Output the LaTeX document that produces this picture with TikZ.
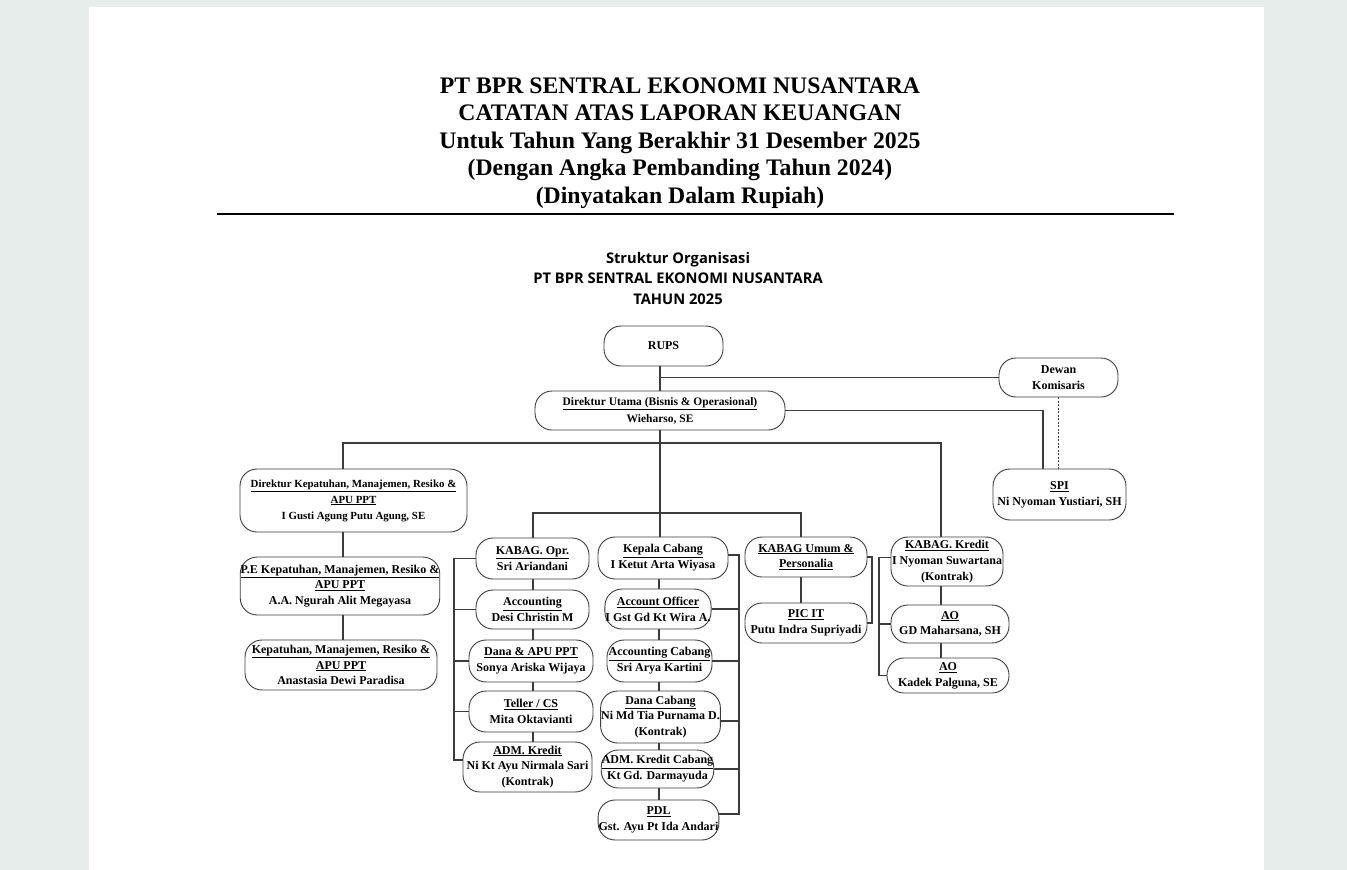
\documentclass[tikz,border=0pt]{standalone}
\usepackage{fontspec}
\setmainfont{Liberation Serif}
\newfontfamily\osans{Open Sans}
\definecolor{bgc}{HTML}{E7EDEB}
\definecolor{ln}{HTML}{3C3C3C}
\tikzset{
  box/.style={draw=ln, line width=0.9pt, rounded corners=17pt, fill=white, align=center, inner sep=0.5pt, font=\bfseries\fontsize{12}{15.8}\selectfont},
  conn/.style={draw=ln, line width=1.1pt},
  ttl/.style={font=\bfseries\fontsize{23.7}{27}\selectfont, anchor=base, inner sep=0pt},
  sub/.style={font=\osans\bfseries\fontsize{14.7}{20}\selectfont, anchor=base, inner sep=0pt},
}
\begin{document}
\begin{tikzpicture}[x=1pt,y=-1pt]
\useasboundingbox (0,0) rectangle (1347,870);
\fill[bgc] (0,0) rectangle (1347,870);
\fill[white] (89,7) rectangle (1264,870);
% titles
\node[ttl] (t1) at (680,93) {PT BPR SENTRAL EKONOMI NUSANTARA};
\node[ttl] (t2) at (680,120.5) {CATATAN ATAS LAPORAN KEUANGAN};
\node[ttl] (t3) at (680,148) {Untuk Tahun Yang Berakhir 31 Desember 2025};
\node[ttl] (t4) at (680,175.5) {(Dengan Angka Pembanding Tahun 2024)};
\node[ttl] (t5) at (680,203) {(Dinyatakan Dalam Rupiah)};
\draw[line width=2pt] (217,214) -- (1174,214);
\node[sub] (s1) at (678,263) {Struktur Organisasi};
\node[sub] (s2) at (678,283) {PT BPR SENTRAL EKONOMI NUSANTARA};
\node[sub] (s3) at (678,304) {TAHUN 2025};
% boxes
\node[box, minimum width=119pt, minimum height=40pt] (rups) at (663.5,346) {RUPS};
\node[box, minimum width=250pt, minimum height=39pt, font=\bfseries\fontsize{11.5}{17}\selectfont] (dirut) at (660,410.5) {\underline{Direktur Utama (Bisnis \& Operasional)}\\Wieharso, SE};
\node[box, minimum width=119pt, minimum height=39pt] (dewan) at (1058.5,377.5) {Dewan\\Komisaris};
\node[box, minimum width=133pt, minimum height=51pt] (spi) at (1059.5,494.5) {\underline{SPI}\\Ni Nyoman Yustiari, SH};
\node[box, minimum width=227pt, minimum height=63pt, font=\bfseries\fontsize{10.9}{16}\selectfont] (dirkep) at (353.5,500.5) {\underline{Direktur Kepatuhan, Manajemen, Resiko \&}\\\underline{APU PPT}\\I Gusti Agung Putu Agung, SE};
\node[box, minimum width=194pt, minimum height=58pt] (pek) at (340,586) {\underline{P.E Kepatuhan, Manajemen, Resiko \&}\\\underline{APU PPT}\\A.A. Ngurah Alit Megayasa};
\node[box, minimum width=192pt, minimum height=50pt] (kep) at (341,665) {\underline{Kepatuhan, Manajemen, Resiko \&}\\\underline{APU PPT}\\Anastasia Dewi Paradisa};
% KABAG Opr column
\node[box, minimum width=113pt, minimum height=41pt] (kopr) at (532.5,558.5) {\underline{KABAG. Opr.}\\Sri Ariandani};
\node[box, minimum width=113pt, minimum height=39pt] (acc) at (532.5,609.5) {\underline{Accounting}\\Desi Christin M};
\node[box, minimum width=124pt, minimum height=42pt] (dana) at (531,661) {\underline{Dana \& APU PPT}\\Sonya Ariska Wijaya};
\node[box, minimum width=124pt, minimum height=41pt] (teller) at (531,711.5) {\underline{Teller / CS}\\Mita Oktavianti};
\node[box, minimum width=129pt, minimum height=50pt] (admk) at (527.5,767) {\underline{ADM. Kredit}\\Ni Kt Ayu Nirmala Sari\\(Kontrak)};
% Kepala Cabang column
\node[box, minimum width=130pt, minimum height=42pt] (kc) at (663,558) {\underline{Kepala Cabang}\\I Ketut Arta Wiyasa};
\node[box, minimum width=102pt, minimum height=40pt] (ao1) at (658,609) {\underline{Account Officer}\\I Gst Gd Kt Wira A.};
\node[box, minimum width=105pt, minimum height=42pt] (accc) at (659.5,661) {\underline{Accounting Cabang}\\Sri Arya Kartini};
\node[box, minimum width=113pt, minimum height=52pt] (danac) at (660.5,717) {\underline{Dana Cabang}\\Ni Md Tia Purnama D.\\(Kontrak)};
\node[box, minimum width=111pt, minimum height=38pt] (admkc) at (657.5,769) {\underline{ADM. Kredit Cabang}\\Kt Gd. Darmayuda};
\node[box, minimum width=113pt, minimum height=40pt] (pdl) at (658.5,820) {\underline{PDL}\\Gst. Ayu Pt Ida Andari};
% KABAG Umum column
\node[box, minimum width=122pt, minimum height=40pt] (kum) at (806,557) {\underline{KABAG Umum \&}\\\underline{Personalia}};
\node[box, minimum width=122pt, minimum height=40pt] (pic) at (806,623) {\underline{PIC IT}\\Putu Indra Supriyadi};
% KABAG Kredit column
\node[box, minimum width=112pt, minimum height=49pt] (kk) at (947,561.5) {\underline{KABAG. Kredit}\\I Nyoman Suwartana\\(Kontrak)};
\node[box, minimum width=118pt, minimum height=38pt] (aoa) at (950,624) {\underline{AO}\\GD Maharsana, SH};
\node[box, minimum width=122pt, minimum height=35pt] (aob) at (948,675.5) {\underline{AO}\\Kadek Palguna, SE};
% helper coordinates
\coordinate (bus) at (660,443);
\coordinate (bus2) at (660,513);
\coordinate (cx0) at (343,0);
\coordinate (cx1) at (533,0);
\coordinate (cx2) at (659,0);
\coordinate (cx3) at (801,0);
\coordinate (cx4) at (941,0);
\coordinate (lb) at (454,0);
\coordinate (rb) at (739,0);
\coordinate (rb2) at (872,0);
\coordinate (lb2) at (879,0);
\coordinate (spix) at (1043,0);
% connectors top
\draw[conn] (dirut.north) -- (dirut.north |- rups.south);
\draw[conn] (dirut.north |- dewan.west) -- (dewan.west);
\draw[conn] (dirut.east) -| (spi.north -| spix);
\draw[ln, line width=0.8pt, dash pattern=on 2pt off 1.5pt] (dewan.south) -- (dewan.south |- spi.north);
\draw[conn] (dirut.south) -- (dirut.south |- kc.north);
\draw[conn] (dirkep.north -| cx0) |- (bus) -| (kk.north -| cx4);
\draw[conn] (kopr.north -| cx1) |- (bus2) -| (kum.north -| cx3);
% left column
\draw[conn] (dirkep.south -| cx0) -- (pek.north -| cx0);
\draw[conn] (pek.south -| cx0) -- (kep.north -| cx0);
% KABAG Opr column
\draw[conn] (kopr.south -| cx1) -- (acc.north -| cx1);
\draw[conn] (acc.south -| cx1) -- (dana.north -| cx1);
\draw[conn] (dana.south -| cx1) -- (teller.north -| cx1);
\draw[conn] (teller.south -| cx1) -- (admk.north -| cx1);
\draw[conn] (kopr.west) -- (kopr.west -| lb) -- ([yshift=7pt]admk.west -| lb) -- ([yshift=7pt]admk.west);
\draw[conn] (acc.west) -- (acc.west -| lb);
\draw[conn] (dana.west) -- (dana.west -| lb);
\draw[conn] (teller.west) -- (teller.west -| lb);
% Kepala Cabang column
\draw[conn] (kc.south -| cx2) -- (ao1.north -| cx2);
\draw[conn] (ao1.south -| cx2) -- (accc.north -| cx2);
\draw[conn] (accc.south -| cx2) -- (danac.north -| cx2);
\draw[conn] (danac.south -| cx2) -- (admkc.north -| cx2);
\draw[conn] (admkc.south -| cx2) -- (pdl.north -| cx2);
\draw[conn] ([yshift=3pt]kc.east) -- ([yshift=3pt]kc.east -| rb) -- ([yshift=6pt]pdl.east -| rb) -- ([yshift=6pt]pdl.east);
\draw[conn] (ao1.east) -- (ao1.east -| rb);
\draw[conn] (accc.east) -- (accc.east -| rb);
\draw[conn] ([yshift=-4pt]danac.east) -- ([yshift=-4pt]danac.east -| rb);
\draw[conn] (admkc.east) -- (admkc.east -| rb);
% KABAG Umum column
\draw[conn] (kum.south -| cx3) -- (pic.north -| cx3);
\draw[conn] (kum.east) -- (kum.east -| rb2) -- (pic.east -| rb2) -- (pic.east);
% KABAG Kredit column
\draw[conn] (kk.south -| cx4) -- (aoa.north -| cx4);
\draw[conn] (aoa.south -| cx4) -- (aob.north -| cx4);
\draw[conn] ([yshift=4pt]kk.west) -- ([yshift=4pt]kk.west -| lb2) -- (aob.west -| lb2) -- (aob.west);
\draw[conn] (aoa.west) -- (aoa.west -| lb2);
\end{tikzpicture}
\end{document}
